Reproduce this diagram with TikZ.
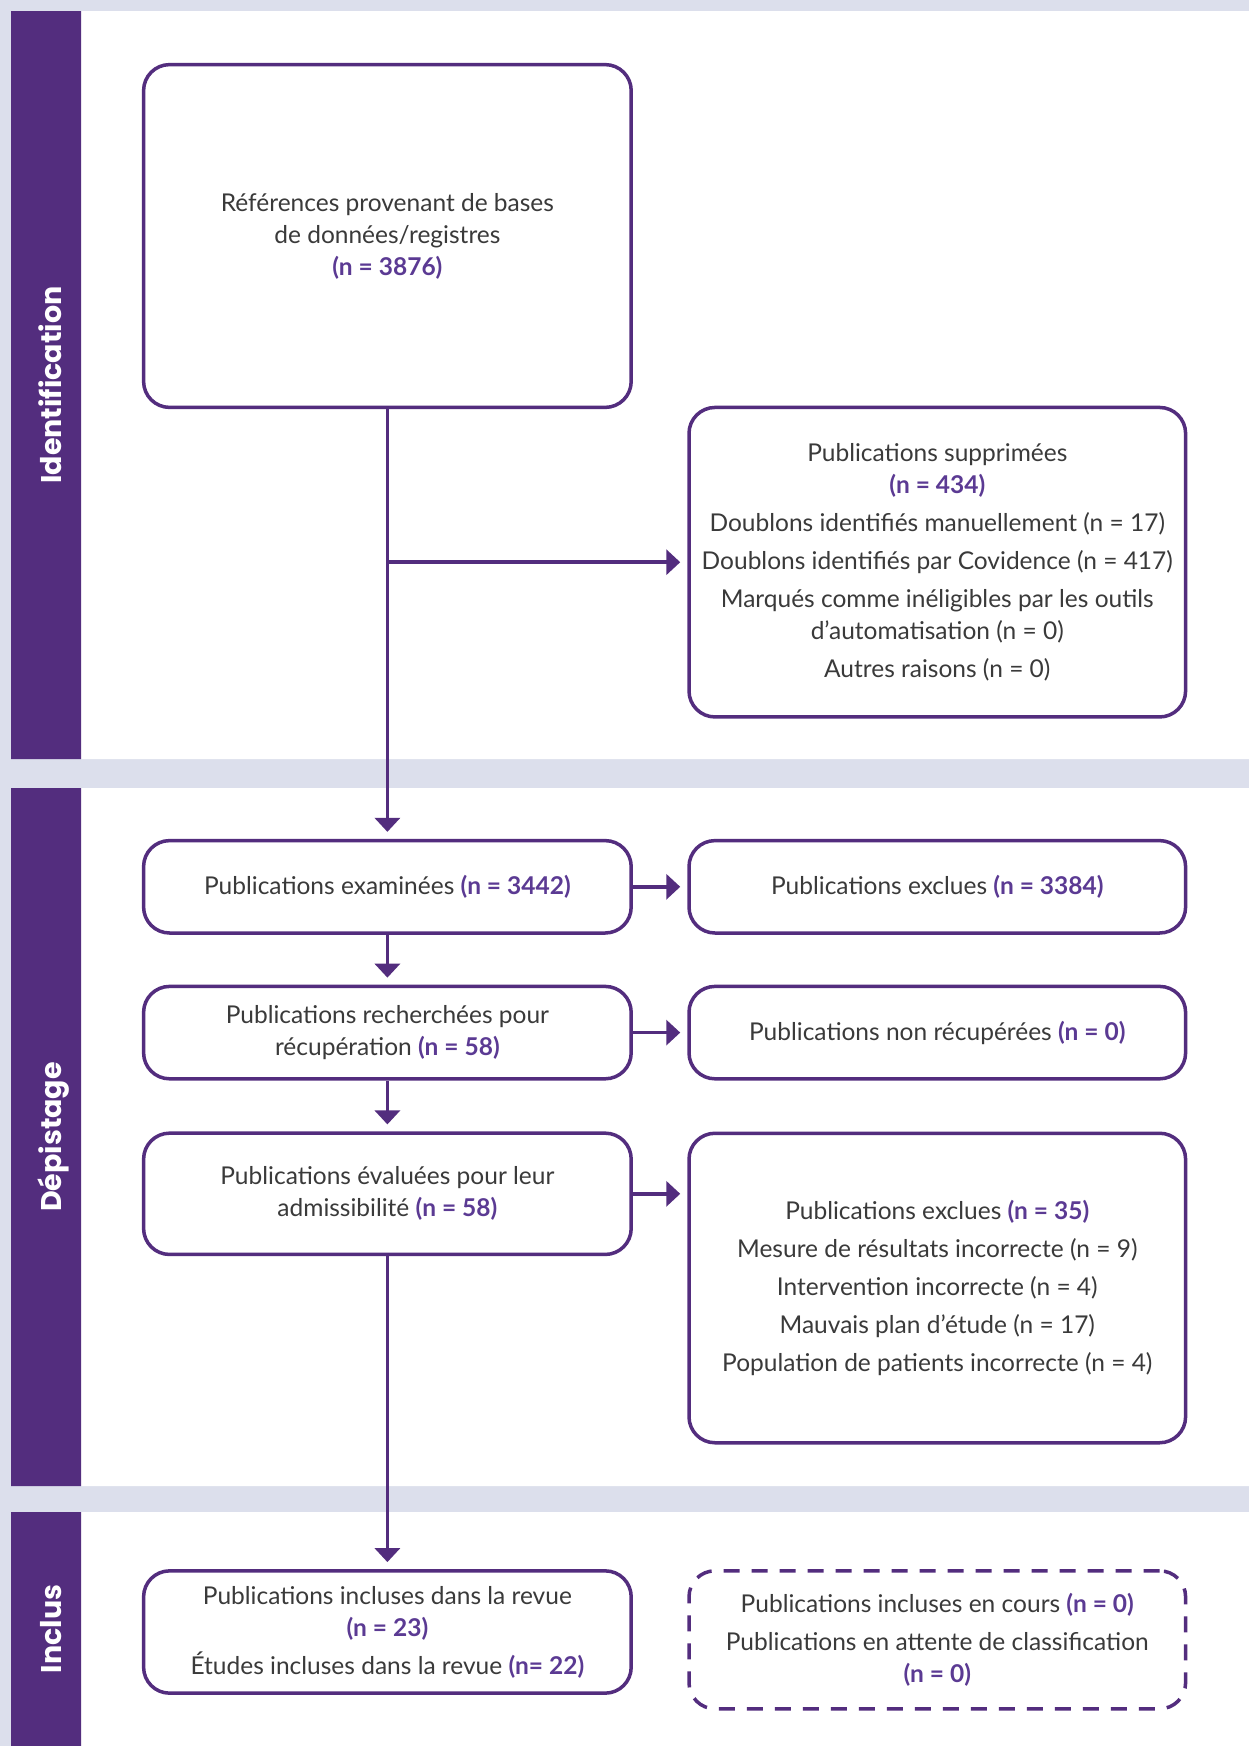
\documentclass[tikz,border=0pt]{standalone}
\usepackage{fontspec}
\setmainfont{Lato}
\newfontfamily\phasefont{Poppins}
\usetikzlibrary{arrows.meta,positioning,calc}
\definecolor{prisma}{HTML}{532D7E}
\definecolor{bandgray}{HTML}{DCDFEC}
\definecolor{txtgray}{HTML}{3A3A3A}
\definecolor{npurple}{HTML}{5B3A93}
\newcommand{\nval}[1]{\textcolor{npurple}{\bfseries #1}}

\begin{document}
\begin{tikzpicture}[x=1pt,y=-1pt, line join=round,
  box/.style={draw=prisma, line width=3.5pt, rounded corners=26pt, align=center,
    text=txtgray, font=\fontsize{24.5}{32}\selectfont, inner sep=0pt},
  wide/.style={minimum width=487.6pt},
  side/.style={minimum width=496.6pt},
  flow/.style={draw=prisma, line width=3.5pt, -{Triangle[length=14pt,width=25pt]}, shorten >=7pt},
  phase/.style={rotate=90, anchor=base, text=white, font=\phasefont\bfseries\fontsize{28.5}{30}\selectfont}]
\useasboundingbox (0,0) rectangle (1249,1746);
% background bands and phase bars
\fill[bandgray] (0,0) rectangle (1249,1746);
\fill[white] (81,11) rectangle (1249,759) (81,788) rectangle (1249,1486) (81,1512) rectangle (1249,1746);
\fill[prisma] (11,11) rectangle (81,759) (11,788) rectangle (81,1486) (11,1512) rectangle (81,1746);
\node[phase] (ident)  at (61.2,385)  {Identification};
\node[phase] (depist) at (61.2,1137) {Dépistage};
\node[phase] (inclus) at (61.2,1629) {Inclus};
% boxes
\node[box, wide, minimum height=342.8pt] (refs) at (387.4,236)
  {Références provenant de bases\\de données/registres\\\nval{(n = 3876)}};
\node[box, side, minimum height=309.5pt] (supp) at (937.3,562.2)
  {Publications supprimées\\\nval{(n = 434)}\\[5.8pt]
   Doublons identifiés manuellement (n = 17)\\[5.8pt]
   Doublons identifiés par Covidence (n = 417)\\[5.8pt]
   Marqués comme inéligibles par les outils\\d’automatisation (n = 0)\\[5.8pt]
   Autres raisons (n = 0)};
\node[box, wide, minimum height=92.4pt] (exam) at (387.4,886.8)
  {Publications examinées \nval{(n = 3442)}};
\node[box, side, minimum height=92.4pt] (excla) at (937.3,886.8)
  {Publications exclues \nval{(n = 3384)}};
\node[box, wide, minimum height=92.4pt] (rech) at (387.4,1032.6)
  {Publications recherchées pour\\récupération \nval{(n = 58)}};
\node[box, side, minimum height=92.4pt] (nonrec) at (937.3,1032.6)
  {Publications non récupérées \nval{(n = 0)}};
\node[box, wide, minimum height=121.3pt] (eval) at (387.4,1193.8)
  {Publications évaluées pour leur\\admissibilité \nval{(n = 58)}};
\node[box, side, minimum height=309.5pt] (exclb) at (937.3,1288)
  {Publications exclues \nval{(n = 35)}\\[5.8pt]
   Mesure de résultats incorrecte (n = 9)\\[5.8pt]
   Intervention incorrecte (n = 4)\\[5.8pt]
   Mauvais plan d’étude (n = 17)\\[5.8pt]
   Population de patients incorrecte (n = 4)};
\node[box, wide, minimum height=122.3pt] (incl) at (387.4,1632)
  {Publications incluses dans la revue\\\nval{(n = 23)}\\[5.8pt]
   Études incluses dans la revue \nval{(n= 22)}};
\node[box, side, minimum height=138pt, dash pattern=on 16pt off 12pt] (attente) at (937.3,1639.8)
  {Publications incluses en cours \nval{(n = 0)}\\[5.8pt]
   Publications en attente de classification\\\nval{(n = 0)}};
% connectors
\coordinate (split) at (refs.south |- supp.west);
\draw[flow] (refs.south) -- (exam.north);
\draw[flow] (split) -- (supp.west);
\draw[flow] (exam.east) -- (excla.west);
\draw[flow] (exam.south) -- (rech.north);
\draw[flow] (rech.east) -- (nonrec.west);
\draw[flow] (rech.south) -- (eval.north);
\draw[flow] (eval.east) -- (eval.east -| exclb.west);
\draw[flow] (eval.south) -- (incl.north);
\end{tikzpicture}
\end{document}
